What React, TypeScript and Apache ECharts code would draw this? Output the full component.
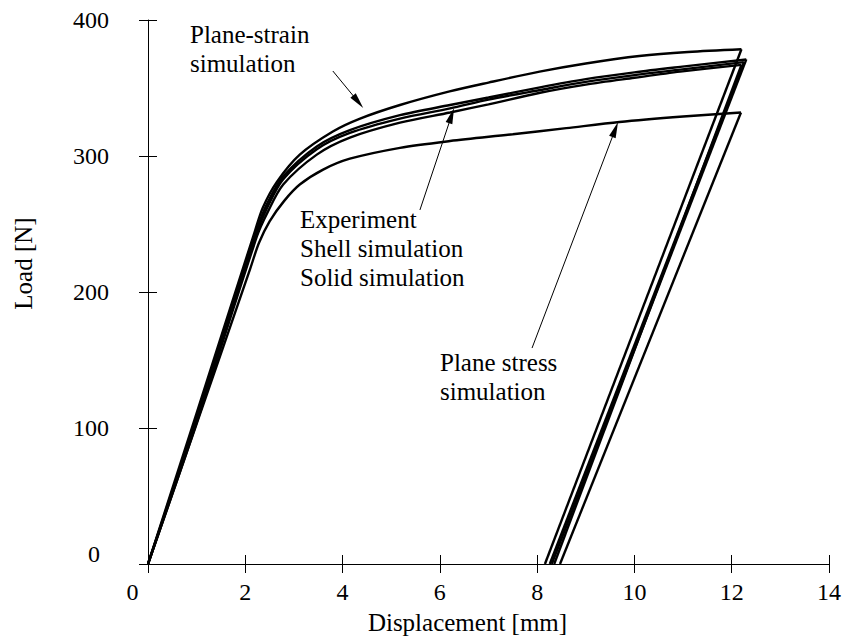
import React, { useEffect, useRef } from 'react';
import * as echarts from 'echarts';

const FONT = '"Liberation Serif", "Times New Roman", serif';

// Axis ranges
const xRange = [0, 14];
const yRange = [0, 400];
const xStep = 2;
const yStep = 100;

// Loading branches [displacement mm, load N]
const planeStrainLoad = [
  [0, 0], [1, 111], [2.2, 245], [2.36, 262], [2.65, 281], [3.12, 301], [3.8, 318], [4.36, 327.5],
  [5.18, 337.5], [6.2, 347.5], [7.0, 354], [8.05, 362], [9.0, 368], [10.1, 373.5], [11.1, 376.5], [12.2, 378.5],
];
const experimentLoad = [
  [0, 0], [1, 106], [2.24, 244], [2.45, 262], [2.78, 283], [3.47, 305], [4.15, 317], [5.18, 327.5],
  [6.21, 335], [7.0, 341.5], [8.06, 348.5], [9.0, 354.5], [10.0, 359.5], [10.94, 363.5], [12.25, 369],
];
const shellLoad = [
  [0, 0], [1, 108], [2.24, 246], [2.45, 265], [2.78, 285], [3.47, 307], [4.15, 319], [5.18, 330],
  [6.21, 337.5], [7.0, 343], [8.06, 350.5], [9.0, 356.5], [10.0, 361.5], [10.94, 365.5], [12.3, 371],
];
const solidLoad = [
  [0, 0], [1, 104], [2.24, 241], [2.45, 258], [2.78, 279], [3.47, 301], [4.15, 313.5], [5.18, 324.5],
  [6.21, 332], [7.0, 338], [8.06, 346.5], [9.0, 352.5], [10.0, 357.5], [10.94, 362], [12.2, 367],
];
const planeStressLoad = [
  [0, 0], [1, 103], [2.1, 217], [2.28, 236], [2.5, 252], [2.8, 267], [3.12, 279], [3.6, 290],
  [4.15, 298], [5.18, 306], [6.21, 311], [7.5, 316], [8.6, 320.5], [9.69, 325], [11.0, 329], [12.19, 332],
];

// Residual displacement after unloading [mm]
const residuals = {
  planeStrain: 8.16,
  experiment: 8.26,
  shell: 8.3,
  solid: 8.35,
  planeStress: 8.47,
};

// Annotation arrows: [from, to] in data coordinates
const arrows = [
  [[3.8, 362.5], [4.32, 339.9]],
  [[5.59, 260.3], [6.24, 329.7]],
  [[7.895, 158.8], [9.605, 319.5]],
];

const xName = 'Displacement [mm]';
const yName = 'Load [N]';

const specimens = [
  { name: 'Plane-strain simulation', load: planeStrainLoad, residual: residuals.planeStrain },
  { name: 'Experiment', load: experimentLoad, residual: residuals.experiment },
  { name: 'Shell simulation', load: shellLoad, residual: residuals.shell },
  { name: 'Solid simulation', load: solidLoad, residual: residuals.solid },
  { name: 'Plane stress simulation', load: planeStressLoad, residual: residuals.planeStress },
];

export default function App() {
  const ref = useRef<HTMLDivElement>(null);

  useEffect(() => {
    document.body.style.margin = '0';
    if (!ref.current) return;
    const chart = echarts.init(ref.current, undefined, { renderer: 'svg' });

    const lineStyle = { color: '#000', width: 2.4 };
    const series: any[] = [];
    specimens.forEach((s, i) => {
      series.push({
        type: 'line',
        name: s.name + ' loading',
        data: s.load,
        showSymbol: false,
        smooth: 0.3,
        lineStyle,
        silent: true,
        xAxisIndex: 0,
        yAxisIndex: 0,
        z: 3,
      });
      const last = s.load[s.load.length - 1];
      series.push({
        type: 'line',
        name: s.name + ' unloading',
        data: [last, [s.residual, 0]],
        showSymbol: false,
        lineStyle,
        silent: true,
        xAxisIndex: 0,
        yAxisIndex: 0,
        z: 3,
        ...(i === specimens.length - 1
          ? {
              markLine: {
                silent: true,
                symbol: ['none', 'triangle'],
                symbolSize: [7, 16],
                label: { show: false },
                emphasis: { disabled: true },
                lineStyle: { color: '#000', width: 1, type: 'solid' },
                data: arrows.map((a) => [{ coord: a[0] }, { coord: a[1] }]),
              },
            }
          : {}),
      });
    });

    const tickStyle = { color: '#000', width: 1 };
    const gridRect = { left: 148, right: 15, top: 20, bottom: 80 };

    const option: any = {
      animation: false,
      backgroundColor: '#fff',
      grid: [gridRect, gridRect],
      xAxis: [
        {
          type: 'value',
          gridIndex: 0,
          min: xRange[0],
          max: xRange[1],
          interval: xStep,
          axisLine: { show: true, onZero: false, lineStyle: tickStyle },
          axisTick: { show: true, length: 9, lineStyle: tickStyle },
          splitLine: { show: false },
          axisLabel: {
            margin: 16,
            color: '#000',
            fontFamily: FONT,
            fontSize: 24,
            formatter: (v: number) => (v === 0 ? '{z|0}' : String(v)),
            rich: { z: { color: '#000', fontFamily: FONT, fontSize: 24, padding: [0, 31, 0, 0] } },
          },
          name: xName,
          nameLocation: 'middle',
          nameGap: 46,
          nameTextStyle: { color: '#000', fontFamily: FONT, fontSize: 25, padding: [0, 42, 0, 0] },
        },
        {
          type: 'value',
          gridIndex: 1,
          min: xRange[0],
          max: xRange[1],
          interval: xStep,
          axisLine: { show: false },
          axisTick: { show: true, inside: true, length: 9, lineStyle: tickStyle },
          axisLabel: { show: false },
          splitLine: { show: false },
        },
      ],
      yAxis: [
        {
          type: 'value',
          gridIndex: 0,
          min: yRange[0],
          max: yRange[1],
          interval: yStep,
          axisLine: { show: true, onZero: false, lineStyle: tickStyle },
          axisTick: { show: true, length: 9, lineStyle: tickStyle },
          splitLine: { show: false },
          axisLabel: {
            margin: 39,
            color: '#000',
            fontFamily: FONT,
            fontSize: 24,
            formatter: (v: number) => (v === 0 ? '{z|0}' : String(v)),
            rich: { z: { color: '#000', fontFamily: FONT, fontSize: 24, padding: [0, 9, 21, 0] } },
          },
          name: yName,
          nameLocation: 'middle',
          nameGap: 112,
          nameTextStyle: { color: '#000', fontFamily: FONT, fontSize: 25, padding: [0, 0, 0, 57] },
        },
        {
          type: 'value',
          gridIndex: 1,
          min: yRange[0],
          max: yRange[1],
          interval: yStep,
          axisLine: { show: false },
          axisTick: { show: true, inside: true, length: 9, lineStyle: tickStyle },
          axisLabel: { show: false },
          splitLine: { show: false },
        },
      ],
      series,
      graphic: [
        {
          type: 'text',
          x: 190,
          y: 20,
          silent: true,
          style: {
            text: 'Plane-strain\nsimulation',
            font: `25px ${FONT}`,
            fill: '#000',
            lineHeight: 29,
            align: 'left',
            verticalAlign: 'top',
          },
        },
        {
          type: 'text',
          x: 300,
          y: 205,
          silent: true,
          style: {
            text: 'Experiment\nShell simulation\nSolid simulation',
            font: `25px ${FONT}`,
            fill: '#000',
            lineHeight: 29,
            align: 'left',
            verticalAlign: 'top',
          },
        },
        {
          type: 'text',
          x: 440,
          y: 348,
          silent: true,
          style: {
            text: 'Plane stress\nsimulation',
            font: `25px ${FONT}`,
            fill: '#000',
            lineHeight: 29,
            align: 'left',
            verticalAlign: 'top',
          },
        },
      ],
    };

    chart.setOption(option);
    return () => {
      chart.dispose();
    };
  }, []);

  return <div ref={ref} style={{ width: 844, height: 644 }} />;
}
